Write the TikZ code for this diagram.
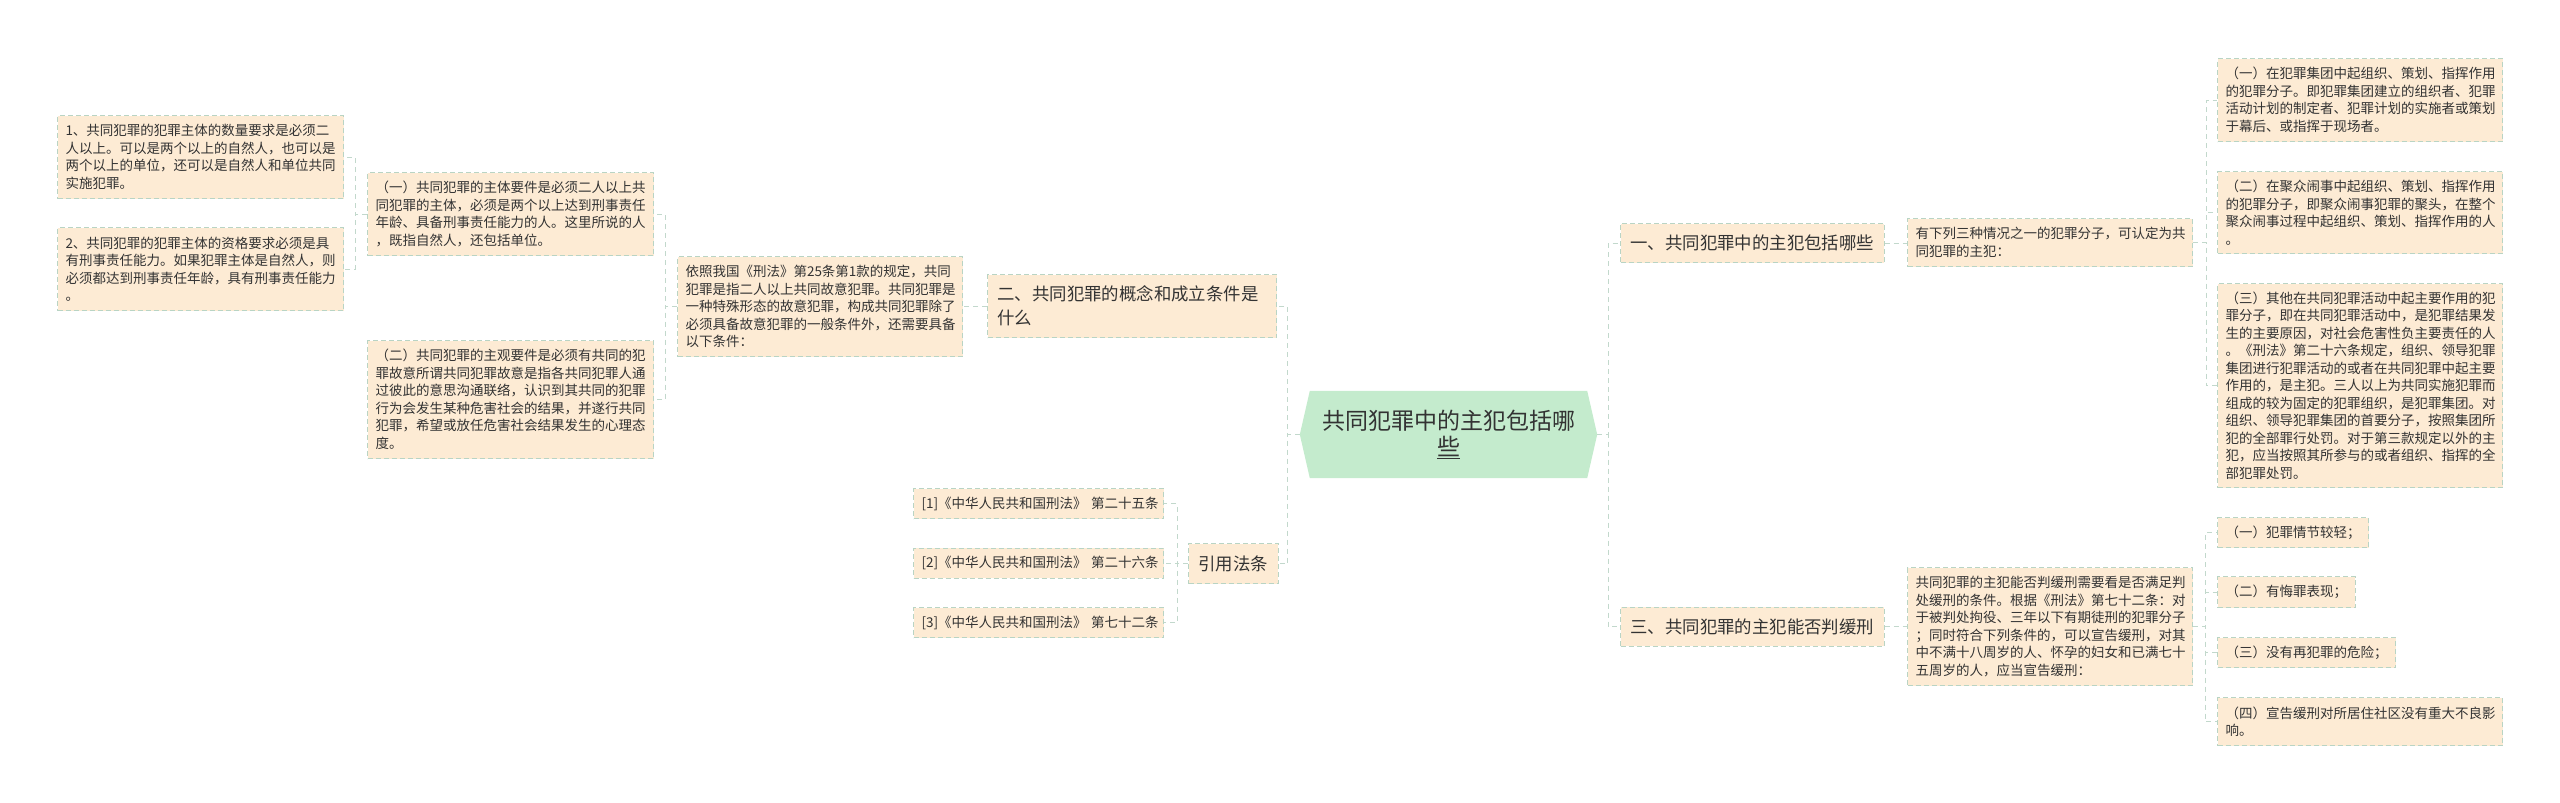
\documentclass[tikz,border=0pt]{standalone}
\usepackage{fontspec}
\setmainfont{Noto Sans CJK SC}
\usetikzlibrary{calc,backgrounds}
\definecolor{peach}{HTML}{FDEBD4}
\definecolor{bdc}{HTML}{B9D4C4}
\definecolor{lnc}{HTML}{C2D8CC}
\definecolor{rootc}{HTML}{C4EBCD}
\definecolor{txt}{HTML}{333333}
\tikzset{
  pbox/.style={draw=bdc, line width=1pt, dash pattern=on 5pt off 3pt, fill=peach, text=txt,
    inner xsep=8pt, inner ysep=0pt, anchor=north west, align=left,
    font=\fontsize{13.5}{17.5}\selectfont},
  bigbox/.style={pbox, font=\fontsize{17.4}{24}\selectfont, inner xsep=10pt},
  rootn/.style={inner sep=0pt, minimum width=297, minimum height=87, align=center, text=txt,
    font=\fontsize{23}{26}\selectfont},
  conn/.style={draw=lnc, line width=1pt, dash pattern=on 5pt off 4pt},
}
\begin{document}
\begin{tikzpicture}[x=1pt,y=-1pt]
\useasboundingbox (0,0) rectangle (2560,803);
% root
\node[rootn] (root) at (1448.5,434.5) {共同犯罪中的主犯包括哪\\\underline{些}};
\begin{scope}[on background layer]
\fill[rootc] ($(root.north west)+(10,0)$) -- (root.west) -- ($(root.south west)+(10,0)$)
  -- ($(root.south east)+(-10,0)$) -- (root.east) -- ($(root.north east)+(-10,0)$) -- cycle;
\end{scope}
% left branch
\node[bigbox, text width=269, minimum height=63] (n2) at (987,274) {二、共同犯罪的概念和成立条件是\\什么};
\node[pbox, text width=269, minimum height=100] (law) at (677,256) {依照我国《刑法》第25条第1款的规定，共同\\犯罪是指二人以上共同故意犯罪。共同犯罪是\\一种特殊形态的故意犯罪，构成共同犯罪除了\\必须具备故意犯罪的一般条件外，还需要具备\\以下条件：};
\node[pbox, text width=270, minimum height=83] (s1) at (367,172) {（一）共同犯罪的主体要件是必须二人以上共\\同犯罪的主体，必须是两个以上达到刑事责任\\年龄、具备刑事责任能力的人。这里所说的人\\，既指自然人，还包括单位。};
\node[pbox, text width=270, minimum height=118] (s2) at (367,340) {（二）共同犯罪的主观要件是必须有共同的犯\\罪故意所谓共同犯罪故意是指各共同犯罪人通\\过彼此的意思沟通联络，认识到其共同的犯罪\\行为会发生某种危害社会的结果，并遂行共同\\犯罪，希望或放任危害社会结果发生的心理态\\度。};
\node[pbox, text width=270, minimum height=83] (p1) at (57,115) {1、共同犯罪的犯罪主体的数量要求是必须二\\人以上。可以是两个以上的自然人，也可以是\\两个以上的单位，还可以是自然人和单位共同\\实施犯罪。};
\node[pbox, text width=270, minimum height=83] (p2) at (57,227) {2、共同犯罪的犯罪主体的资格要求必须是具\\有刑事责任能力。如果犯罪主体是自然人，则\\必须都达到刑事责任年龄，具有刑事责任能力\\。};
\node[bigbox, minimum height=40] (cite) at (1188,543) {引用法条};
\node[pbox, text width=234, minimum height=30] (r1) at (913,488) {[1]《中华人民共和国刑法》~第二十五条};
\node[pbox, text width=234, minimum height=30] (r2) at (913,547.5) {[2]《中华人民共和国刑法》~第二十六条};
\node[pbox, text width=234, minimum height=30] (r3) at (913,607) {[3]《中华人民共和国刑法》~第七十二条};
% right branch
\node[bigbox, minimum height=39] (m1) at (1620,223) {一、共同犯罪中的主犯包括哪些};
\node[pbox, text width=269, minimum height=48] (m1c) at (1907,218) {有下列三种情况之一的犯罪分子，可认定为共\\同犯罪的主犯：};
\node[pbox, text width=269, minimum height=83] (a1) at (2217,58) {（一）在犯罪集团中起组织、策划、指挥作用\\的犯罪分子。即犯罪集团建立的组织者、犯罪\\活动计划的制定者、犯罪计划的实施者或策划\\于幕后、或指挥于现场者。};
\node[pbox, text width=269, minimum height=82] (a2) at (2217,171) {（二）在聚众闹事中起组织、策划、指挥作用\\的犯罪分子，即聚众闹事犯罪的聚头，在整个\\聚众闹事过程中起组织、策划、指挥作用的人\\。};
\node[pbox, text width=269, minimum height=204] (a3) at (2217,283) {（三）其他在共同犯罪活动中起主要作用的犯\\罪分子，即在共同犯罪活动中，是犯罪结果发\\生的主要原因，对社会危害性负主要责任的人\\。《刑法》第二十六条规定，组织、领导犯罪\\集团进行犯罪活动的或者在共同犯罪中起主要\\作用的，是主犯。三人以上为共同实施犯罪而\\组成的较为固定的犯罪组织，是犯罪集团。对\\组织、领导犯罪集团的首要分子，按照集团所\\犯的全部罪行处罚。对于第三款规定以外的主\\犯，应当按照其所参与的或者组织、指挥的全\\部犯罪处罚。};
\node[bigbox, minimum height=39] (m3) at (1620,606.5) {三、共同犯罪的主犯能否判缓刑};
\node[pbox, text width=269, minimum height=118] (m3c) at (1907,567) {共同犯罪的主犯能否判缓刑需要看是否满足判\\处缓刑的条件。根据《刑法》第七十二条：对\\于被判处拘役、三年以下有期徒刑的犯罪分子\\；同时符合下列条件的，可以宣告缓刑，对其\\中不满十八周岁的人、怀孕的妇女和已满七十\\五周岁的人，应当宣告缓刑：};
\node[pbox, minimum height=30] (b1) at (2217,517) {（一）犯罪情节较轻；};
\node[pbox, minimum height=31] (b2) at (2217,576) {（二）有悔罪表现；};
\node[pbox, minimum height=30] (b3) at (2217,637) {（三）没有再犯罪的危险；};
\node[pbox, text width=269, minimum height=48] (b4) at (2217,697) {（四）宣告缓刑对所居住社区没有重大不良影\\响。};
% connectors
\draw[conn] (root.west) -- ++(-12,0) |- (n2.east);
\draw[conn] (root.west) -- ++(-12,0) |- (cite.east);
\draw[conn] (n2.west) -- (law.east |- n2.west);
\draw[conn] (law.west) -- ++(-12,0) |- (s1.east);
\draw[conn] (law.west) -- ++(-12,0) |- (s2.east);
\draw[conn] (s1.west) -- ++(-12,0) |- (p1.east);
\draw[conn] (s1.west) -- ++(-12,0) |- (p2.east);
\draw[conn] (cite.west) -- ++(-11,0) |- (r1.east);
\draw[conn] (cite.west) -- ++(-11,0) |- (r2.east);
\draw[conn] (cite.west) -- ++(-11,0) |- (r3.east);
\draw[conn] (root.east) -- ++(11,0) |- (m1.west);
\draw[conn] (root.east) -- ++(11,0) |- (m3.west);
\draw[conn] (m1.east) -- (m1c.west |- m1.east);
\draw[conn] (m1c.east) -- ++(13,0) |- (a1.west);
\draw[conn] (m1c.east) -- ++(13,0) |- (a2.west);
\draw[conn] (m1c.east) -- ++(13,0) |- (a3.west);
\draw[conn] (m3.east) -- (m3c.west |- m3.east);
\draw[conn] (m3c.east) -- ++(12,0) |- (b1.west);
\draw[conn] (m3c.east) -- ++(12,0) |- (b2.west);
\draw[conn] (m3c.east) -- ++(12,0) |- (b3.west);
\draw[conn] (m3c.east) -- ++(12,0) |- (b4.west);
\end{tikzpicture}
\end{document}
